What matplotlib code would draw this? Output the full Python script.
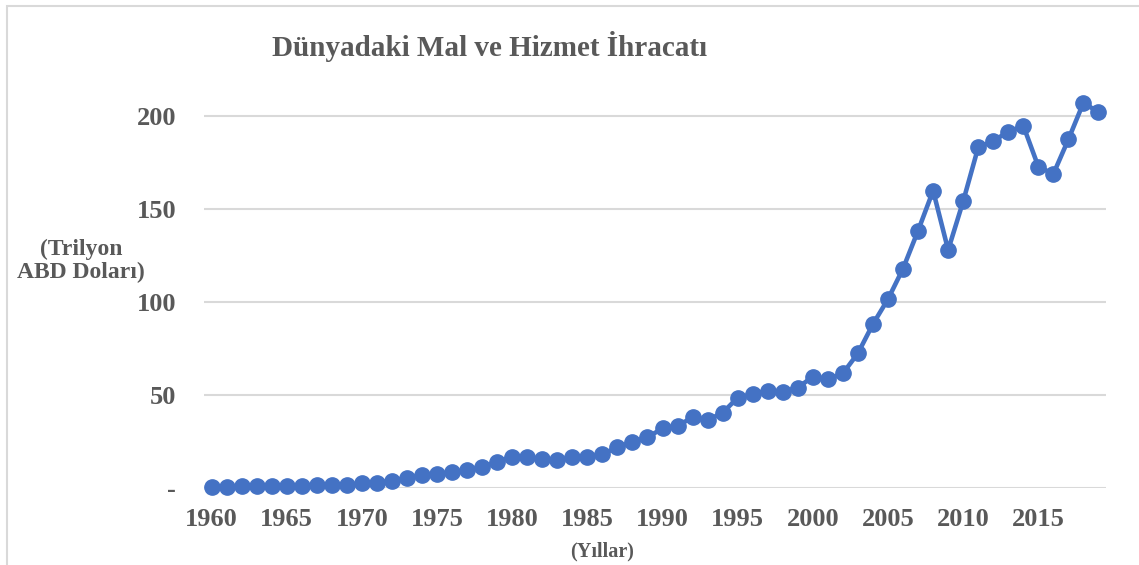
import matplotlib.pyplot as plt
from matplotlib.patches import Rectangle

# values
years = list(range(1960, 2020))
exports = [
    0.6, 0.6, 0.7, 0.8, 0.9, 1.0, 1.1, 1.2, 1.3, 1.5,       # 1960-1969
    2.4, 2.7, 3.8, 5.0, 6.8, 7.4, 8.3, 9.5, 11.0, 14.0,      # 1970-1979
    16.7, 16.3, 15.4, 14.9, 16.3, 16.3, 18.1, 21.7, 24.7, 27.1,  # 1980-1989
    31.9, 33.3, 37.8, 36.4, 40.3, 48.4, 50.2, 52.2, 51.6, 53.8,  # 1990-1999
    59.7, 58.3, 61.5, 72.3, 88.0, 101.4, 117.8, 138.2, 159.7, 127.8,  # 2000-2009
    154.0, 183.0, 186.4, 191.4, 194.6, 172.6, 168.7, 187.3, 207.0, 201.8,  # 2010-2019
]
x_ticks = list(range(1960, 2020, 5))
y_ticks = [0, 50, 100, 150, 200]
y_tick_labels = ["-", "50", "100", "150", "200"]

W, H = 1139, 565
text_color = "#595959"
grid_color = "#D9D9D9"
line_color = "#4472C4"

plt.rcParams['font.family'] = ['Liberation Serif', 'DejaVu Serif']
plt.rcParams['font.weight'] = 'bold'

fig = plt.figure(figsize=(W / 100, H / 100), dpi=100)

# plot area placed to match the reference pixels
left, right = 204, 1106
y0_px, per_unit = 487.7, 1.86
ymax = 220
ax = fig.add_axes([left / W, (H - y0_px) / H, (right - left) / W, ymax * per_unit / H])

ax.plot(years, exports, color=line_color, linewidth=3.3, marker='o',
        markersize=11, clip_on=False, zorder=3)

ax.set_xlim(1959.5, 2019.5)
ax.set_ylim(0, ymax)
ax.set_xticks(x_ticks)
ax.set_xticklabels([str(y) for y in x_ticks])
ax.set_yticks(y_ticks)
ax.set_yticklabels(y_tick_labels)
ax.tick_params(axis='both', length=0, labelsize=19, labelcolor=text_color)
ax.tick_params(axis='y', pad=20)
ax.tick_params(axis='x', pad=14.5)
for lab in ax.get_xticklabels() + ax.get_yticklabels():
    lab.set_fontweight('bold')

ax.grid(axis='y', color=grid_color, linewidth=1.5)
ax.set_axisbelow(True)
for s in ax.spines.values():
    s.set_visible(False)

fig.text(490 / W, 1 - 46 / H, "Dünyadaki Mal ve Hizmet İhracatı", ha='center', va='center',
         fontsize=21, fontweight='bold', color=text_color)
fig.text(81 / W, 1 - 261 / H, "(Trilyon\nABD Doları)", ha='center', va='center',
         multialignment='center', fontsize=17, fontweight='bold', color=text_color,
         linespacing=1.1)
fig.text(602 / W, 1 - 551 / H, "(Yıllar)", ha='center', va='center',
         fontsize=14.5, fontweight='bold', color=text_color)

# light frame around the chart area (only top and left visible in the crop)
fig.patches.append(Rectangle((6.5 / W, -0.1), 1.2, 1.1 - 6.5 / H, transform=fig.transFigure,
                             fill=False, edgecolor=grid_color, linewidth=1.5))

fig.savefig("out.png", dpi=100)
